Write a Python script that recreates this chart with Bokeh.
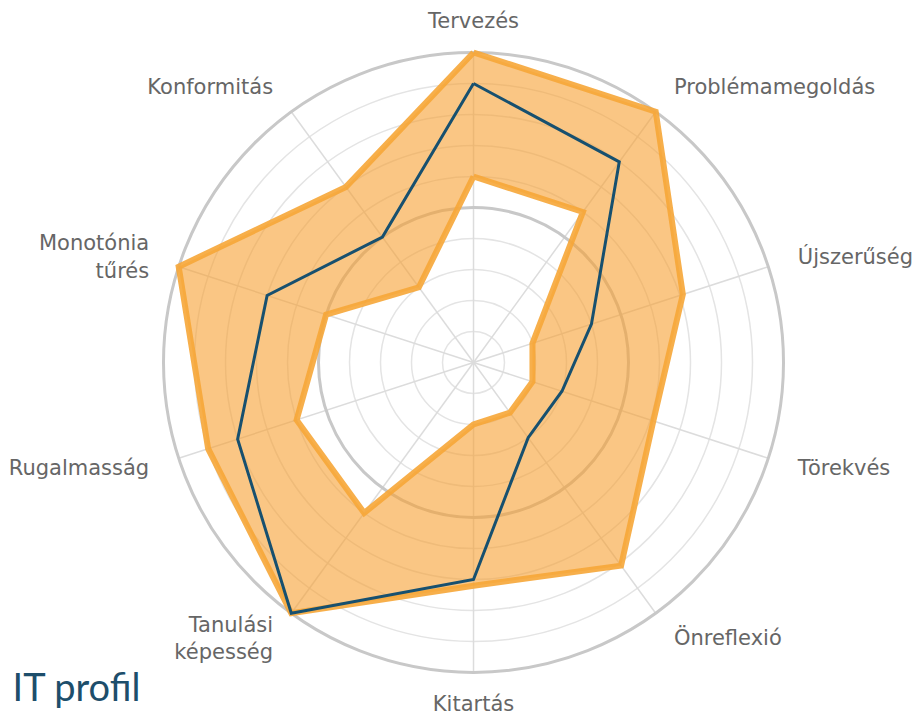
import numpy as np
from bokeh.plotting import figure
from bokeh.models import Range1d
from bokeh.core.properties import value
from bokeh.embed import file_html
from bokeh.resources import INLINE

# ---- data ----
categories = ["Tervezés", "Problémamegoldás", "Újszerűség", "Törekvés", "Önreflexió",
              "Kitartás", "Tanulási\nképesség", "Rugalmasság", "Monotónia\ntűrés", "Konformitás"]
band_upper = [10, 10, 7.1, 6.1, 8.1, 7.2, 10, 9, 10, 7]
band_lower = [6, 6, 2, 2, 2, 2, 6, 6, 5, 3]
it_profile = [9, 8, 4, 3, 3, 7, 10, 8, 7, 5]
grid_levels = [1, 2, 3, 4, 5, 6, 7, 8, 9, 10]
major_levels = [5, 10]
max_value = 10
title_text = "IT profil"

# ---- geometry ----
n = len(categories)
theta = np.pi / 2 - np.arange(n) * 2 * np.pi / n


def polar(vals):
    v = np.asarray(vals, dtype=float)
    return list(v * np.cos(theta)), list(v * np.sin(theta))


p = figure(width=920, height=715, x_range=Range1d(-15.258, 14.419), y_range=Range1d(-11.387, 11.677),
           output_backend="svg", toolbar_location=None, min_border=0)
p.axis.visible = False
p.grid.visible = False
p.outline_line_color = None
p.background_fill_color = "white"
p.border_fill_color = "white"

# grid circles
minor = [g for g in grid_levels if g not in major_levels]
p.circle(x=[0] * len(minor), y=[0] * len(minor), radius=minor, fill_color=None,
         line_color="#e4e4e4", line_width=1.5)
# spokes
sx, sy = polar([max_value] * n)
p.segment(x0=[0] * n, y0=[0] * n, x1=sx, y1=sy, line_color="#dcdcdc", line_width=1.5)
p.circle(x=[0] * len(major_levels), y=[0] * len(major_levels), radius=major_levels,
         fill_color=None, line_color="#c8c8c8", line_width=3)

# band
ux, uy = polar(band_upper)
lx, ly = polar(band_lower)
p.multi_polygons(xs=[[[ux, lx]]], ys=[[[uy, ly]]], fill_color="#f7a032", fill_alpha=0.6,
                 line_color=None)
p.line(ux + ux[:1], uy + uy[:1], line_color="#f6a637", line_width=6, line_alpha=0.9,
       line_join="miter")
p.line(lx + lx[:1], ly + ly[:1], line_color="#f6a637", line_width=6, line_alpha=0.9,
       line_join="miter")

# profile line
bx, by = polar(it_profile)
p.line(bx + bx[:1], by + by[:1], line_color="#17506f", line_width=3, line_join="miter")

# labels
R = 11.0
lh = 0.88
tx, ty, tt, ta = [], [], [], []
for i, cat in enumerate(categories):
    c, s = np.cos(theta[i]), np.sin(theta[i])
    ax, ay = R * c, R * s
    align = "center" if abs(c) < 0.01 else ("left" if c > 0 else "right")
    lines = cat.split("\n")
    for k, line in enumerate(lines):
        tx.append(ax)
        ty.append(ay + (len(lines) - 1) / 2 * lh - k * lh)
        tt.append(line)
        ta.append(align)
for align in ["left", "right", "center"]:
    idx = [j for j in range(len(tt)) if ta[j] == align]
    p.text(x=[tx[j] for j in idx], y=[ty[j] for j in idx], text=[tt[j] for j in idx],
           text_align=align, text_baseline="middle", text_font=value("DejaVu Sans"),
           text_font_size="21px", text_color="#666666")

p.text(x=[-14.87], y=[-10.45], text=[title_text], text_align="left", text_baseline="middle",
       text_font=value("Lato"), text_font_size="38px", text_color="#1d4e6b")

open("out.html", "w").write(file_html(p, INLINE))
